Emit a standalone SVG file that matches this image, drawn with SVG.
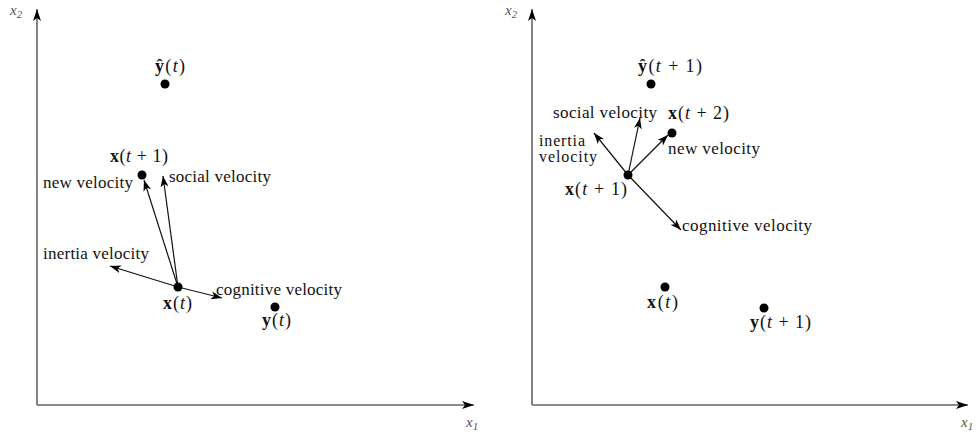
<svg xmlns="http://www.w3.org/2000/svg" width="976" height="434" viewBox="0 0 976 434">
<style>
text{font-family:"Liberation Serif","DejaVu Serif",serif;font-size:17px;fill:#111}
.m{font-size:18px}
.s{font-size:16px}
.b{font-weight:bold}
.i{font-style:italic}
.ax{stroke:#666;stroke-width:1.6;fill:none}
.axl{fill:#555;font-style:italic;font-size:15px}
.v{stroke:#111;stroke-width:1.2;fill:none;marker-end:url(#ah)}
.dot{fill:#000}
</style>
<defs>
<marker id="ah" markerUnits="userSpaceOnUse" markerWidth="14" markerHeight="10" refX="11" refY="4" orient="auto">
<path d="M0,0 L11,4 L0,8 L3,4 z" fill="#000"/>
</marker>
<marker id="axh" markerUnits="userSpaceOnUse" markerWidth="14" markerHeight="10" refX="12" refY="4" orient="auto">
<path d="M0,0 L12,4 L0,8 L3,4 z" fill="#000"/>
</marker>
</defs>

<g id="axes-left">
<line class="ax" x1="37" y1="405" x2="37" y2="9" marker-end="url(#axh)"/>
<line class="ax" x1="37" y1="405" x2="474" y2="405" marker-end="url(#axh)"/>
<text class="axl" x="10" y="15">x<tspan font-size="11" dy="3">2</tspan></text>
<text class="axl" x="466" y="427">x<tspan font-size="11" dy="3">1</tspan></text>
</g>
<g id="axes-right">
<line class="ax" x1="532" y1="405" x2="532" y2="9" marker-end="url(#axh)"/>
<line class="ax" x1="532" y1="405" x2="968" y2="405" marker-end="url(#axh)"/>
<text class="axl" x="505" y="15">x<tspan font-size="11" dy="3">2</tspan></text>
<text class="axl" x="961" y="427">x<tspan font-size="11" dy="3">1</tspan></text>
</g>

<g id="connectors">
<line class="v" x1="178" y1="287" x2="144" y2="180"/>
<line class="v" x1="178" y1="287" x2="163" y2="176"/>
<line class="v" x1="178" y1="287" x2="110" y2="266"/>
<line class="v" x1="178" y1="287" x2="222" y2="298"/>
<line class="v" x1="628" y1="175" x2="640" y2="118"/>
<line class="v" x1="628" y1="175" x2="668" y2="135"/>
<line class="v" x1="628" y1="175" x2="594" y2="133"/>
<line class="v" x1="628" y1="175" x2="681" y2="230"/>
</g>

<g id="L-yhat">
<circle class="dot" cx="165" cy="84" r="4.5"/>
<text class="m" x="155" y="72" textLength="30" lengthAdjust="spacing"><tspan class="b">ŷ</tspan>(<tspan class="i">t</tspan>)</text>
</g>
<g id="L-xt1">
<circle class="dot" cx="142" cy="175" r="4.5"/>
<text class="m" x="110" y="162" textLength="58" lengthAdjust="spacing"><tspan class="b">x</tspan>(<tspan class="i">t</tspan> + 1)</text>
</g>
<g id="L-xt">
<circle class="dot" cx="178" cy="287" r="4.5"/>
<text class="m" x="163" y="309" textLength="29" lengthAdjust="spacing"><tspan class="b">x</tspan>(<tspan class="i">t</tspan>)</text>
</g>
<g id="L-yt">
<circle class="dot" cx="275" cy="307" r="4.5"/>
<text class="m" x="262" y="326" textLength="29" lengthAdjust="spacing"><tspan class="b">y</tspan>(<tspan class="i">t</tspan>)</text>
</g>
<g id="L-labels">
<text x="43" y="188" textLength="90" lengthAdjust="spacing">new velocity</text>
<text x="169" y="182" textLength="102" lengthAdjust="spacing">social velocity</text>
<text x="43" y="259" textLength="106" lengthAdjust="spacing">inertia velocity</text>
<text x="216" y="295" textLength="126" lengthAdjust="spacing">cognitive velocity</text>
</g>

<g id="R-yhat">
<circle class="dot" cx="651" cy="84" r="4.5"/>
<text class="m" x="638" y="72" textLength="64" lengthAdjust="spacing"><tspan class="b">ŷ</tspan>(<tspan class="i">t</tspan> + 1)</text>
</g>
<g id="R-xt2">
<circle class="dot" cx="672" cy="133" r="4.5"/>
<text class="m" x="668" y="119" textLength="61" lengthAdjust="spacing"><tspan class="b">x</tspan>(<tspan class="i">t</tspan> + 2)</text>
</g>
<g id="R-xt1">
<circle class="dot" cx="628" cy="175" r="4.5"/>
<text class="m" x="565" y="195" textLength="62" lengthAdjust="spacing"><tspan class="b">x</tspan>(<tspan class="i">t</tspan> + 1)</text>
</g>
<g id="R-xt">
<circle class="dot" cx="665" cy="287" r="4.5"/>
<text class="m" x="647" y="308" textLength="31" lengthAdjust="spacing"><tspan class="b">x</tspan>(<tspan class="i">t</tspan>)</text>
</g>
<g id="R-yt1">
<circle class="dot" cx="764" cy="308" r="4.5"/>
<text class="m" x="750" y="328" textLength="61" lengthAdjust="spacing"><tspan class="b">y</tspan>(<tspan class="i">t</tspan> + 1)</text>
</g>
<g id="R-labels">
<text x="553" y="118" textLength="104" lengthAdjust="spacing">social velocity</text>
<text class="s" x="539" y="146" textLength="46" lengthAdjust="spacing">inertia</text>
<text class="s" x="539" y="162" textLength="58" lengthAdjust="spacing">velocity</text>
<text x="668" y="154" textLength="92" lengthAdjust="spacing">new velocity</text>
<text x="682" y="231" textLength="130" lengthAdjust="spacing">cognitive velocity</text>
</g>
</svg>
